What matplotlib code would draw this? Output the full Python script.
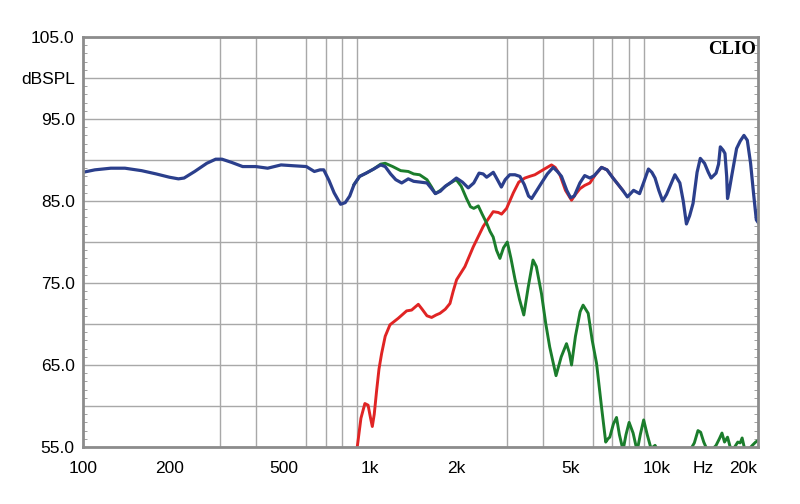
import matplotlib
matplotlib.use("Agg")
import matplotlib.pyplot as plt
from matplotlib.ticker import FixedLocator, NullFormatter

# Courbe système (bleue)
bleu_f = [100, 110, 125, 140, 160, 180, 200, 215, 225, 245, 270, 290, 305, 330, 360, 400, 440, 490,
          540, 600, 640, 670, 690, 720, 750, 790, 820, 850, 880, 920, 970, 1030, 1090, 1130, 1180,
          1230, 1290, 1360, 1420, 1500, 1580, 1640, 1690, 1760, 1830, 1920, 2000, 2100, 2200, 2300,
          2400, 2480, 2550, 2620, 2690, 2780, 2870, 2960, 3070, 3200, 3330, 3450, 3570, 3660, 3800,
          3960, 4150, 4350, 4500, 4650, 4850, 5000, 5150, 5390, 5600, 5840, 6050, 6410, 6700, 7030,
          7330, 7600, 7890, 8290, 8700, 9000, 9340, 9600, 9850, 10150, 10470, 10800, 11550, 12020,
          12350, 12670, 13000, 13360, 13800, 14160, 14650, 15100, 15450, 16070, 16400, 16630, 17000,
          17260, 17500, 17620, 17900, 18250, 18950, 19500, 20100, 20650, 21200, 21700, 22200, 22500]
bleu_db = [88.5, 88.8, 89.0, 89.0, 88.7, 88.3, 87.9, 87.7, 87.8, 88.6, 89.6, 90.1, 90.1, 89.7, 89.2,
           89.2, 89.0, 89.4, 89.3, 89.2, 88.6, 88.8, 88.8, 87.5, 86.0, 84.6, 84.8, 85.6, 87.0, 88.0,
           88.4, 88.9, 89.4, 89.2, 88.3, 87.6, 87.2, 87.7, 87.4, 87.3, 87.2, 86.5, 85.9, 86.2, 86.8,
           87.3, 87.8, 87.3, 86.6, 87.2, 88.4, 88.3, 87.9, 88.2, 88.5, 87.6, 86.7, 87.6, 88.2, 88.2,
           88.0, 87.0, 85.6, 85.3, 86.2, 87.2, 88.3, 89.1, 88.6, 88.0, 86.3, 85.4, 85.6, 87.2, 88.1,
           87.8, 88.1, 89.1, 88.8, 87.8, 87.0, 86.3, 85.5, 86.3, 85.9, 87.3, 88.9, 88.5, 87.8, 86.3,
           85.0, 85.8, 88.2, 87.2, 85.0, 82.2, 83.2, 84.7, 88.5, 90.2, 89.6, 88.5, 87.8, 88.4, 89.5,
           91.6, 91.2, 90.8, 88.0, 85.3, 86.5, 88.2, 91.4, 92.3, 93.0, 92.4, 89.6, 86.0, 82.7, 82.4]

# Woofer (vert)
vert_f = [880, 920, 970, 1030, 1090, 1130, 1200, 1280, 1360, 1420, 1490, 1580, 1640, 1690, 1760,
          1850, 1950, 2000, 2080, 2170, 2240, 2300, 2385, 2460, 2550, 2620, 2688, 2760, 2837, 2920,
          3010, 3100, 3200, 3320, 3436, 3560, 3700, 3800, 3960, 4100, 4230, 4450, 4640, 4840, 4950,
          5040, 5200, 5400, 5530, 5760, 5950, 6160, 6410, 6630, 6750, 6850, 7050, 7230, 7400, 7620,
          7800, 8000, 8260, 8530, 8750, 8990, 9250, 9540, 9850, 10100, 13000, 13500, 13900, 14200,
          14560, 14900, 15500, 16070, 16500, 16850, 17200, 17620, 18000, 18500, 19130, 19500, 19810,
          20200, 21000, 21500, 22080, 22500]
vert_db = [87.0, 88.0, 88.4, 88.9, 89.5, 89.6, 89.2, 88.7, 88.6, 88.3, 88.2, 87.6, 86.7, 85.9, 86.3,
           86.9, 87.4, 87.6, 86.8, 85.3, 84.3, 84.1, 84.4, 83.4, 82.3, 81.3, 80.6, 79.0, 78.0, 79.3,
           80.0, 78.0, 75.5, 73.0, 71.1, 74.5, 77.8, 77.0, 73.7, 70.0, 67.2, 63.7, 66.0, 67.6, 66.5,
           65.0, 68.5, 71.5, 72.3, 71.3, 68.0, 65.2, 59.9, 55.6, 56.0, 56.2, 57.8, 58.6, 56.5, 54.6,
           56.5, 58.0, 56.7, 54.5, 56.5, 58.3, 56.5, 54.8, 55.2, 54.5, 54.5, 55.5, 57.0, 56.8,
           55.6, 54.8, 54.6, 55.2, 56.0, 56.7, 55.6, 56.2, 55.0, 54.8, 55.6, 55.5, 56.1,
           54.8, 54.8, 55.2, 55.6, 55.8]

# Tweeter (rouge)
rouge_f = [880, 903, 930, 960, 985, 1005, 1019, 1035, 1055, 1075, 1098, 1130, 1174, 1255, 1342, 1397,
           1440, 1474, 1520, 1580, 1640, 1700, 1753, 1830, 1900, 1950, 2004, 2142, 2290, 2481, 2688,
           2800, 2875, 2993, 3160, 3300, 3465, 3600, 3755, 4010, 4290, 4420, 4590, 4800, 5040, 5200,
           5390, 5600, 5840, 6100, 6410, 6700, 7030, 7330, 7600]
rouge_db = [53.0, 55.0, 58.5, 60.3, 60.1, 58.5, 57.5, 59.0, 61.9, 64.5, 66.4, 68.5, 69.9, 70.7, 71.6,
            71.7, 72.1, 72.4, 71.8, 71.0, 70.8, 71.1, 71.3, 71.8, 72.5, 74.0, 75.4, 77.0, 79.4, 81.9,
            83.7, 83.6, 83.4, 84.1, 86.0, 87.3, 87.8, 88.0, 88.2, 88.8, 89.4, 89.1, 88.2, 86.3, 85.1,
            85.8, 86.5, 86.9, 87.2, 88.2, 89.1, 88.8, 87.8, 87.0, 86.3]

x_ticks = [100, 200, 500, 1000, 2000, 5000, 10000, 14500, 20000]
x_labels = ["100", "200", "500", "1k", "2k", "5k", "10k", "Hz", "20k"]
x_grille = [100, 200, 300, 400, 500, 600, 700, 800, 900, 1000, 2000, 3000, 4000, 5000, 6000,
            7000, 8000, 9000, 10000, 20000]
y_ticks = [55, 60, 65, 70, 75, 80, 85, 90, 95, 100, 105]
y_labels = ["55.0", "", "65.0", "", "75.0", "", "85.0", "", "95.0", "dBSPL", "105.0"]

plt.rcParams['font.family'] = ['Liberation Sans', 'DejaVu Sans']

fig = plt.figure(figsize=(8, 5.04), dpi=100)
ax = fig.add_axes([83/800, 1 - 447/504, (758 - 83)/800, (447 - 37)/504])

ax.plot(rouge_f, rouge_db, color='#e02424', lw=2.1)
ax.plot(vert_f, vert_db, color='#1b7d2c', lw=2.1)
ax.plot(bleu_f, bleu_db, color='#2b3f8c', lw=2.3)

ax.set_xscale('log')
ax.set_xlim(100, 22500)
ax.set_ylim(55, 105)

ax.xaxis.set_major_locator(FixedLocator(x_ticks))
ax.set_xticklabels(x_labels)
ax.xaxis.set_minor_locator(FixedLocator(x_grille))
ax.xaxis.set_minor_formatter(NullFormatter())
ax.tick_params(axis='x', which='both', length=0, pad=10, labelsize=12.5)

ax.set_yticks(y_ticks)
ax.set_yticklabels(y_labels)
ax.yaxis.set_minor_locator(FixedLocator(range(55, 106)))
ax.tick_params(axis='y', which='major', length=0, pad=6, labelsize=12.5)
ax.tick_params(axis='y', which='minor', direction='in', length=3, color='#909090',
               left=True, right=True)

ax.grid(True, which='minor', axis='x', color='#a8a8a8', lw=1)
ax.grid(True, which='major', axis='y', color='#a8a8a8', lw=1)
ax.set_axisbelow(True)

for s in ax.spines.values():
    s.set_color('#8c8c8c')
    s.set_linewidth(2)

ax.text(0.997, 0.99, "CLIO", transform=ax.transAxes, ha='right', va='top',
        fontsize=13.5, fontweight='bold', family='Liberation Serif')

fig.savefig("out.png", dpi=100)
